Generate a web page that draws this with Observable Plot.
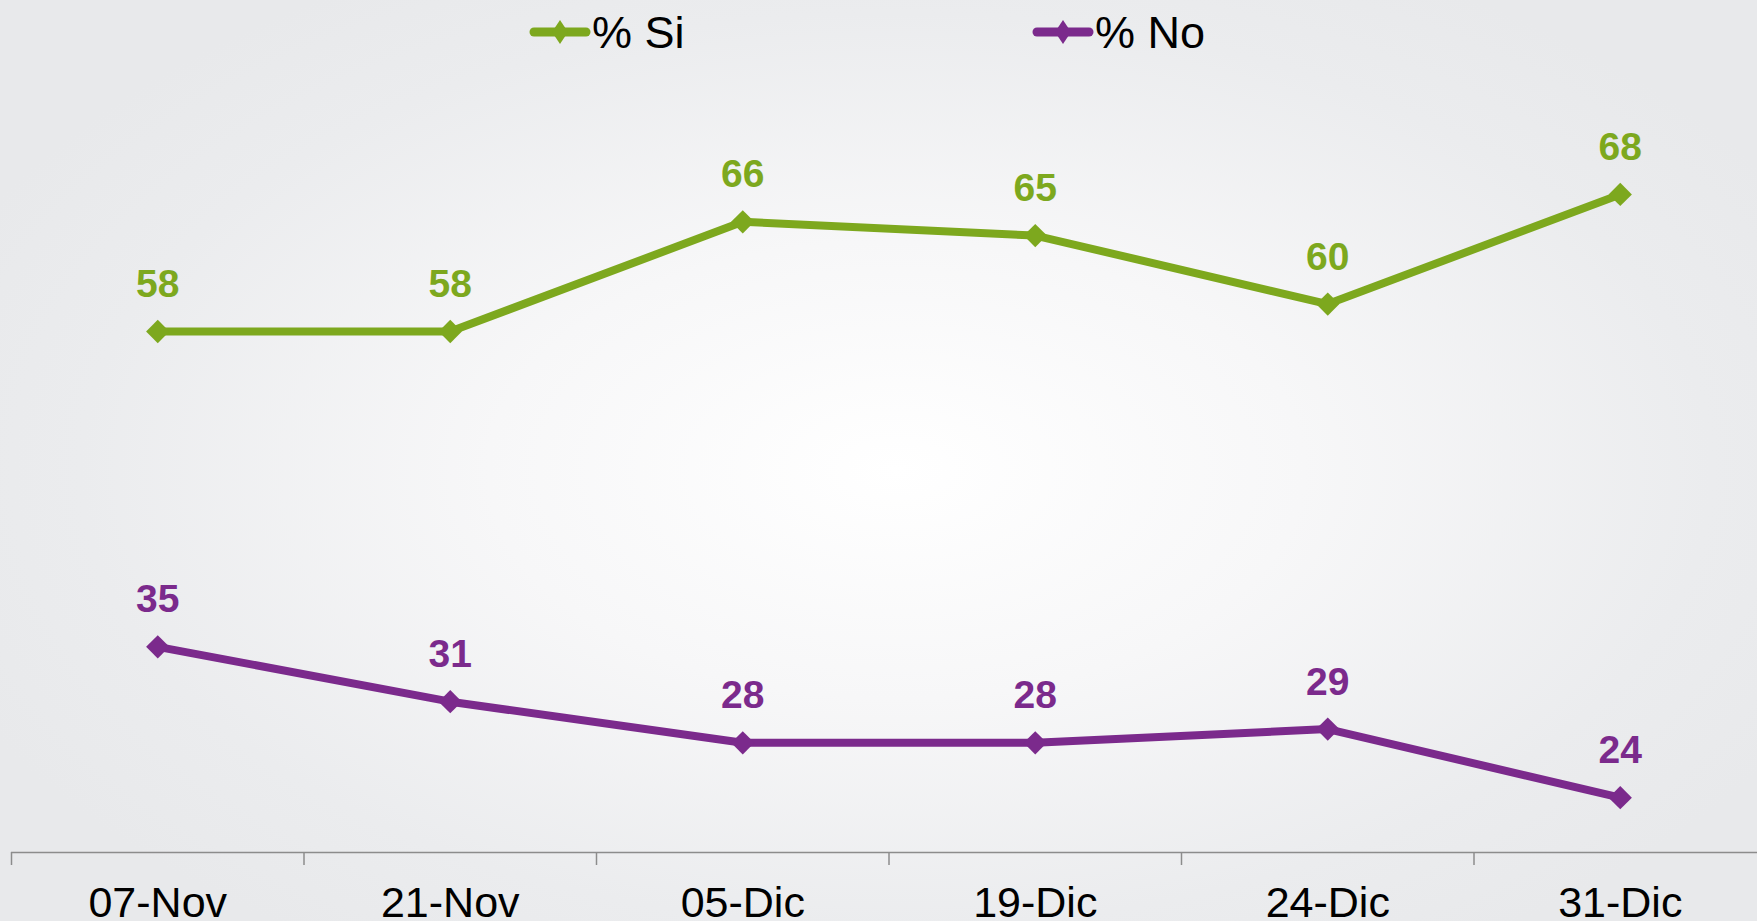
<!DOCTYPE html>
<html>
<head>
<meta charset="utf-8">
<script src="https://cdn.jsdelivr.net/npm/d3@7"></script>
<script src="https://cdn.jsdelivr.net/npm/@observablehq/plot@0.6"></script>
<style>
  html, body { margin: 0; padding: 0; }
  body {
    width: 1757px; height: 921px; overflow: hidden;
    font-family: "Liberation Sans", Arial, sans-serif;
    background: radial-gradient(ellipse 58% 62% at 51% 51%, #ffffff 0%, #f7f7f8 40%, #ebecee 80%, #e8e9eb 100%);
  }
  #legend { display: block; width: 1757px; height: 62px; }
  #chart svg { display: block; }
</style>
</head>
<body>
<svg id="legend" width="1757" height="62"></svg>
<div id="chart"></div>
<script>
const dates = ["07-Nov", "21-Nov", "05-Dic", "19-Dic", "24-Dic", "31-Dic"];
const si = [58, 58, 66, 65, 60, 68];
const no = [35, 31, 28, 28, 29, 24];
const seriesNames = ["% Si", "% No"];
const colors = ["#7da81e", "#7b2a8c"];
const seriesValues = [si, no];

const data = [];
seriesNames.forEach((s, k) => {
  seriesValues[k].forEach((v, i) => data.push({ i, date: dates[i], value: v, series: s }));
});
const idx = d3.range(dates.length);
const boundaries = idx.map(i => i - 0.5);

// Legend
const legendX = [530, 1033];
const lg = d3.select("#legend");
seriesNames.forEach((s, k) => {
  const x0 = legendX[k];
  const g = lg.append("g");
  g.append("line").attr("x1", x0 + 4).attr("x2", x0 + 56).attr("y1", 32).attr("y2", 32)
    .attr("stroke", colors[k]).attr("stroke-width", 9).attr("stroke-linecap", "round");
  g.append("polygon")
    .attr("points", `${x0+30},20 ${x0+38},32 ${x0+30},44 ${x0+22},32`)
    .attr("fill", colors[k]);
  g.append("text").attr("x", x0 + 62).attr("y", 48).attr("font-size", 45)
    .attr("font-family", "Liberation Sans, Arial, sans-serif").attr("fill", "#000").text(s);
});

const chart = Plot.plot({
  width: 1757,
  height: 859,
  marginLeft: 11,
  marginRight: 0,
  marginTop: 104.5,
  marginBottom: 69,
  x: { type: "linear", domain: [-0.5, 5.5], range: [11, 1766], axis: null, label: null },
  y: { domain: [20, 70], axis: null, label: null },
  color: { domain: seriesNames, range: colors },
  style: { background: "transparent", fontFamily: "Liberation Sans, Arial, sans-serif", overflow: "visible" },
  marks: [
    Plot.ruleY([20], { stroke: "#8c8c8c", strokeWidth: 1.5 }),
    Plot.axisX(boundaries, { tickSize: 13, tickFormat: () => "", label: null, stroke: "#8c8c8c", strokeWidth: 1.5 }),
    Plot.axisX(idx, { tickSize: 0, tickPadding: 34, tickFormat: i => dates[i], label: null, fontSize: 43, fill: "#000" }),
    Plot.line(data, { x: "i", y: "value", z: "series", stroke: "series", strokeWidth: 8 }),
    Plot.dot(data, { x: "i", y: "value", fill: "series", symbol: "diamond2", r: 10.5 }),
    Plot.text(data, { x: "i", y: "value", text: d => String(d.value), fill: "series", fontSize: 39, fontWeight: "bold", dy: -47 })
  ]
});
document.getElementById("chart").appendChild(chart);
</script>
</body>
</html>
